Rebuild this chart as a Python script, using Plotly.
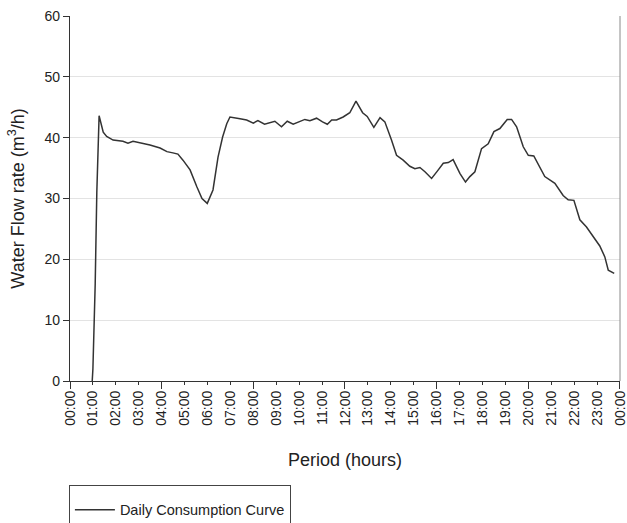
import plotly.graph_objects as go

hours = [0.97, 1.0, 1.1, 1.17, 1.27, 1.45, 1.6, 1.88, 2.31, 2.53, 2.75, 3.05, 3.49, 3.93,
         4.23, 4.49, 4.71, 4.93, 5.24, 5.54, 5.76, 5.99, 6.24, 6.46, 6.66, 6.84, 6.98,
         7.42, 7.71, 8.0, 8.2, 8.49, 8.73, 8.94, 9.23, 9.48, 9.74, 9.96, 10.25, 10.47,
         10.76, 11.02, 11.23, 11.42, 11.63, 11.92, 12.21, 12.48, 12.77, 12.97, 13.26,
         13.53, 13.74, 14.03, 14.25, 14.54, 14.83, 15.05, 15.27, 15.49, 15.78, 16.03,
         16.29, 16.51, 16.72, 17.02, 17.26, 17.45, 17.67, 17.96, 18.25, 18.5, 18.76,
         19.08, 19.27, 19.49, 19.78, 20.0, 20.24, 20.72, 21.16, 21.52, 21.74, 21.99,
         22.25, 22.54, 22.83, 23.12, 23.34, 23.49, 23.75]
flow = [0, 2, 16, 31, 43.6, 40.9, 40.2, 39.6, 39.4, 39.1, 39.4, 39.2, 38.8, 38.3,
        37.7, 37.5, 37.3, 36.3, 34.7, 31.9, 30.0, 29.2, 31.4, 36.8, 40.1, 42.3, 43.4,
        43.1, 42.9, 42.4, 42.8, 42.2, 42.5, 42.7, 41.8, 42.7, 42.2, 42.6, 43.0, 42.8,
        43.2, 42.6, 42.2, 42.9, 42.9, 43.4, 44.1, 46.0, 44.1, 43.5, 41.7,
        43.3, 42.6, 39.6, 37.1, 36.3, 35.3, 34.9, 35.1, 34.4, 33.3, 34.5,
        35.8, 35.9, 36.4, 34.1, 32.7, 33.6, 34.4, 38.2, 39.0, 41.0, 41.5,
        43.0, 43.0, 41.8, 38.5, 37.1, 37.0, 33.6, 32.5, 30.5, 29.8, 29.7,
        26.5, 25.3, 23.7, 22.2, 20.4, 18.2, 17.7]

tick_hours = list(range(0, 25))
tick_labels = ["%02d:00" % (h % 24) for h in tick_hours]
series_name = "Daily Consumption Curve"

FONT = "Liberation Sans, Arial, sans-serif"
TXT = "#222222"

fig = go.Figure()
fig.add_trace(go.Scatter(x=hours, y=flow, mode="lines", name=series_name,
                         line=dict(color="#333333", width=1.5)))
# invisible trace to host the long-tick overlay axis
fig.add_trace(go.Scatter(x=hours, y=flow, mode="lines", xaxis="x2", showlegend=False,
                         hoverinfo="skip", line=dict(color="rgba(0,0,0,0)", width=0)))

fig.update_layout(
    width=627, height=523,
    margin=dict(l=70, r=7, t=16, b=142, autoexpand=False),
    paper_bgcolor="white", plot_bgcolor="white",
    font=dict(family=FONT, size=14, color=TXT),
    showlegend=True,
    legend=dict(x=-0.002, y=-0.285, xanchor="left", yanchor="top",
                bordercolor="#444444", borderwidth=1, bgcolor="white",
                itemwidth=40,
                font=dict(family=FONT, size=14.5, color=TXT),
                title=dict(text=" ", font=dict(size=6))),
    xaxis=dict(range=[0, 24.002], tickmode="array", tickvals=tick_hours, ticktext=tick_labels,
               tickangle=-90, ticks="outside", ticklen=3, tickcolor="#333333",
               ticklabeloverflow="allow",
               showline=True, linecolor="#333333", linewidth=1.3, showgrid=False,
               zeroline=False, tickfont=dict(size=14),
               title=dict(text="Period (hours)", font=dict(size=18), standoff=28)),
    xaxis2=dict(range=[0, 24.002], overlaying="x", side="bottom", dtick=4, tick0=0,
                ticks="outside", ticklen=7, tickcolor="#333333", showticklabels=False,
                showgrid=False, zeroline=False, showline=False),
    yaxis=dict(range=[0, 60], dtick=10, ticks="outside", ticklen=6, tickcolor="#333333",
               showline=True, linecolor="#333333", linewidth=1.3,
               showgrid=True, gridcolor="#e3e3e3", gridwidth=1, zeroline=False,
               tickfont=dict(size=14),
               title=dict(text="Water Flow rate (m<sup>3</sup>/h)", font=dict(size=18))),
    shapes=[dict(type="line", xref="paper", yref="paper", x0=1, x1=1, y0=0, y1=1,
                 line=dict(color="#8a8a8a", width=1))],
)

fig.write_html("out.html")
